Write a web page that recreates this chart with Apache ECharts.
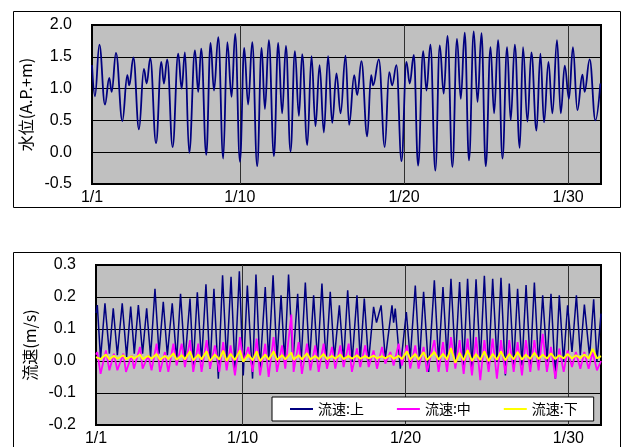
<!DOCTYPE html>
<html><head><meta charset="utf-8">
<script src="https://cdn.jsdelivr.net/npm/echarts@6/dist/echarts.min.js"></script>
<style>html,body{margin:0;padding:0;background:#fff}#c{width:623px;height:447px}</style>
</head><body><div id="c"></div>
<script>
// x: days since 1/1 00:00
const tickDays = [0, 9, 19, 29];
const tickLabels = ['1/1', '1/10', '1/20', '1/30'];
const levelName = '水位(A.P.+m)';
const velName = '流速(m/s)';
const seriesNames = ['流速:上', '流速:中', '流速:下'];

// 水位 (read at highs / lows)
const waterLevel = [
[0.00,1.37],[0.18,0.88],[0.45,1.69],[0.79,0.75],[1.05,1.17],[1.20,0.95],[1.46,1.56],[1.85,0.49],
[2.15,1.21],[2.27,1.05],[2.52,1.49],[2.86,0.36],[3.16,1.31],[3.33,1.08],[3.55,1.48],[3.90,0.14],
[4.22,1.42],[4.38,1.08],[4.58,1.46],[4.91,0.08],[5.25,1.55],[5.46,1.00],[5.66,1.57],[5.92,-0.01],
[6.27,1.60],[6.47,0.95],[6.65,1.63],[6.96,-0.04],[7.22,1.72],[7.43,0.97],[7.69,1.81],[7.99,-0.10],
[8.24,1.73],[8.50,0.87],[8.72,1.86],[9.01,-0.15],[9.27,1.64],[9.51,0.75],[9.76,1.73],[10.06,-0.22],
[10.33,1.64],[10.53,0.68],[10.77,1.76],[11.08,-0.06],[11.34,1.72],[11.58,0.61],[11.81,1.67],[12.09,0.01],
[12.36,1.59],[12.60,0.57],[12.80,1.54],[13.11,0.11],[13.37,1.51],[13.61,0.41],[13.86,1.37],[14.12,0.31],
[14.38,1.51],[14.63,0.46],[14.89,1.24],[15.14,0.61],[15.44,1.52],[15.66,0.43],[15.97,1.21],[16.15,0.90],
[16.41,1.43],[16.76,0.25],[17.00,1.21],[17.12,1.05],[17.47,1.46],[17.83,0.08],[18.10,1.26],[18.28,1.05],
[18.54,1.37],[18.85,-0.14],[19.15,1.42],[19.35,1.08],[19.60,1.53],[19.86,-0.21],[20.17,1.59],[20.37,0.97],
[20.61,1.69],[20.91,-0.29],[21.18,1.68],[21.42,0.92],[21.65,1.83],[21.95,-0.23],[22.23,1.78],[22.46,0.84],
[22.70,1.88],[22.96,-0.13],[23.25,1.90],[23.48,0.79],[23.72,1.87],[23.98,-0.22],[24.27,1.65],[24.49,0.61],
[24.73,1.76],[25.00,-0.10],[25.28,1.65],[25.50,0.50],[25.75,1.69],[26.05,0.07],[26.25,1.65],[26.52,0.48],
[26.76,1.57],[27.07,0.34],[27.31,1.55],[27.53,0.47],[27.80,1.42],[28.04,0.61],[28.32,1.76],[28.55,0.61],
[28.79,1.36],[29.05,0.84],[29.29,1.65],[29.56,0.66],[29.87,1.22],[30.00,0.95],[30.31,1.46],[30.66,0.50],
[30.96,1.08]
];

// 流速:上
const velUpper = [
[0.00,0.150],[0.08,0.175],[0.28,0.007],[0.55,0.180],[0.82,0.023],[1.06,0.165],[1.31,0.018],[1.61,0.180],
[1.88,0.013],[2.13,0.170],[2.35,0.023],[2.60,0.175],[2.86,0.023],[3.11,0.165],[3.35,0.013],[3.62,0.226],
[3.87,0.023],[4.13,0.185],[4.38,0.018],[4.68,0.180],[4.95,0.002],[5.19,0.210],[5.46,-0.003],[5.77,0.195],
[5.97,-0.014],[6.22,0.215],[6.48,-0.003],[6.75,0.240],[7.00,-0.024],[7.24,0.226],[7.51,-0.055],[7.77,0.268],
[8.02,-0.003],[8.29,0.263],[8.53,-0.024],[8.80,0.280],[9.04,-0.045],[9.29,0.236],[9.61,-0.055],[9.82,0.270],
[10.07,-0.024],[10.39,0.231],[10.60,-0.003],[10.87,0.268],[11.11,0.002],[11.36,0.205],[11.58,-0.003],[11.82,0.270],
[12.09,-0.003],[12.38,0.210],[12.58,-0.014],[12.85,0.245],[13.11,-0.003],[13.36,0.205],[13.60,-0.003],[13.87,0.242],
[14.12,-0.008],[14.38,0.216],[14.63,0.007],[14.94,0.174],[15.20,-0.003],[15.45,0.221],[15.72,-0.003],[16.02,0.205],
[16.22,0.002],[16.47,0.195],[16.73,-0.003],[17.04,0.169],[17.22,0.120],[17.50,0.174],[17.76,0.007],[18.17,0.174],
[18.27,0.120],[18.37,0.164],[18.68,-0.024],[19.05,0.153],[19.29,0.007],[19.60,0.236],[19.86,-0.003],[20.11,0.216],
[20.42,-0.034],[20.77,0.252],[21.03,-0.003],[21.30,0.231],[21.55,0.007],[21.79,0.257],[22.06,-0.003],[22.32,0.247],
[22.57,-0.014],[22.81,0.257],[23.08,-0.024],[23.33,0.255],[23.59,-0.003],[23.84,0.266],[24.10,-0.024],[24.35,0.257],
[24.62,-0.003],[24.86,0.260],[25.13,-0.045],[25.37,0.242],[25.64,-0.014],[25.88,0.226],[26.15,-0.014],[26.40,0.237],
[26.66,-0.014],[26.91,0.245],[27.17,-0.014],[27.42,0.205],[27.69,-0.003],[27.93,0.210],[28.20,-0.055],[28.44,0.205],
[28.70,-0.003],[28.95,0.174],[29.22,0.028],[29.49,0.205],[29.73,0.018],[29.98,0.176],[30.30,0.013],[30.55,0.193],
[30.75,-0.003],[31.00,0.148]
];

// 流速:中
const velMiddle = [
[0.00,0.020],[0.08,0.028],[0.28,-0.040],[0.61,0.033],[0.82,-0.029],[1.10,0.023],[1.31,-0.029],[1.68,0.023],
[1.84,-0.034],[2.19,0.018],[2.33,-0.024],[2.70,0.044],[2.86,-0.024],[3.21,0.018],[3.41,-0.029],[3.72,0.054],
[3.93,-0.034],[4.23,0.028],[4.44,-0.034],[4.75,0.054],[4.95,-0.014],[5.26,0.054],[5.46,-0.019],[5.77,0.065],
[5.97,-0.034],[6.28,0.054],[6.48,-0.034],[6.79,0.065],[7.00,-0.024],[7.30,0.049],[7.57,-0.034],[7.81,0.059],
[8.02,-0.029],[8.26,0.049],[8.53,-0.045],[8.84,0.075],[9.04,-0.003],[9.35,0.044],[9.62,-0.034],[9.86,0.070],
[10.07,-0.045],[10.39,0.054],[10.60,-0.050],[10.90,0.075],[11.11,-0.034],[11.42,0.049],[11.62,-0.024],[11.99,0.145],
[12.13,-0.034],[12.44,0.059],[12.64,-0.040],[12.95,0.054],[13.16,-0.029],[13.46,0.049],[13.67,-0.034],[13.97,0.054],
[14.18,-0.024],[14.49,0.044],[14.69,-0.024],[15.00,0.049],[15.20,-0.019],[15.51,0.054],[15.71,-0.034],[16.02,0.039],
[16.22,-0.019],[16.53,0.049],[16.74,-0.019],[17.04,0.033],[17.25,-0.024],[17.56,0.044],[17.76,-0.008],[18.07,0.028],
[18.27,-0.014],[18.58,0.054],[18.78,-0.014],[19.09,0.049],[19.29,-0.024],[19.60,0.049],[19.80,-0.024],[20.11,0.044],
[20.32,-0.034],[20.77,0.065],[21.03,-0.034],[21.30,0.059],[21.55,-0.034],[21.79,0.075],[22.06,-0.024],[22.32,0.065],
[22.57,-0.040],[22.81,0.070],[23.08,-0.045],[23.33,0.075],[23.59,-0.060],[23.84,0.065],[24.10,-0.034],[24.35,0.070],
[24.61,-0.055],[24.86,0.065],[25.13,-0.040],[25.37,0.065],[25.64,-0.034],[25.88,0.059],[26.15,-0.045],[26.39,0.065],
[26.66,-0.034],[26.91,0.065],[27.17,-0.029],[27.42,0.085],[27.68,-0.034],[27.93,0.044],[28.20,-0.055],[28.44,0.039],
[28.71,-0.034],[28.95,0.033],[29.22,-0.019],[29.46,0.028],[29.73,-0.024],[29.98,0.028],[30.24,-0.024],[30.49,0.028],
[30.75,-0.029],[31.00,0.000]
];

// 流速:下
const velLower = [
[0.00,0.012],[0.08,0.018],[0.28,0.006],[0.61,0.020],[0.82,0.006],[1.10,0.016],[1.31,0.007],[1.68,0.018],
[1.84,0.006],[2.19,0.015],[2.33,0.007],[2.70,0.020],[2.86,0.006],[3.21,0.016],[3.41,0.007],[3.72,0.022],
[3.93,0.004],[4.23,0.016],[4.44,0.006],[4.75,0.024],[4.95,0.004],[5.26,0.018],[5.46,0.005],[5.77,0.030],
[5.97,0.002],[6.28,0.020],[6.48,0.005],[6.79,0.030],[7.00,0.000],[7.30,0.020],[7.57,0.004],[7.81,0.032],
[8.02,0.000],[8.26,0.022],[8.53,0.003],[8.84,0.033],[9.04,-0.002],[9.35,0.020],[9.62,0.002],[9.86,0.030],
[10.07,0.000],[10.39,0.020],[10.60,0.004],[10.90,0.030],[11.11,0.003],[11.42,0.018],[11.62,0.005],[11.99,0.026],
[12.13,0.004],[12.44,0.018],[12.64,0.005],[12.95,0.024],[13.16,0.005],[13.46,0.016],[13.67,0.006],[13.97,0.022],
[14.18,0.006],[14.49,0.016],[14.69,0.007],[15.00,0.020],[15.20,0.006],[15.51,0.016],[15.71,0.007],[16.02,0.018],
[16.22,0.007],[16.53,0.016],[16.74,0.008],[17.04,0.017],[17.25,0.008],[17.56,0.015],[17.76,0.008],[18.07,0.018],
[18.27,0.007],[18.58,0.016],[18.78,0.006],[19.09,0.030],[19.29,0.005],[19.60,0.022],[19.80,0.004],[20.11,0.028],
[20.32,0.003],[20.77,0.028],[21.03,0.004],[21.30,0.022],[21.55,0.005],[21.79,0.040],[22.06,-0.006],[22.32,0.025],
[22.57,0.002],[22.81,0.034],[23.08,0.000],[23.33,0.022],[23.59,0.003],[23.84,0.030],[24.10,0.000],[24.35,0.022],
[24.61,0.004],[24.86,0.030],[25.13,0.002],[25.37,0.022],[25.64,0.005],[25.88,0.028],[26.15,0.004],[26.39,0.020],
[26.66,0.006],[26.91,0.026],[27.17,0.006],[27.42,0.020],[27.68,0.007],[27.93,0.024],[28.20,0.006],[28.44,0.018],
[28.71,0.008],[28.95,0.022],[29.22,0.008],[29.46,0.018],[29.73,0.009],[29.98,0.020],[30.24,0.008],[30.49,0.038],
[30.75,0.008],[31.00,0.015]
];

const chart = echarts.init(document.getElementById('c'), null, {renderer: 'canvas'});

function dayLabel(v) {
  for (let i = 0; i < tickDays.length; i++) if (Math.abs(v - tickDays[i]) < 1e-6) return tickLabels[i];
  return '';
}
function xAxisFor(g) {
  return {gridIndex: g, type: 'value', min: 0, max: 31, interval: 1,
    axisLine: {show: false}, axisTick: {show: false}, splitLine: {show: false},
    axisLabel: {formatter: dayLabel, color: '#000', fontFamily: 'Liberation Sans', fontSize: 16,
      margin: 6, showMaxLabel: false, showMinLabel: true}};
}
function yAxisFor(g, mn, mx, iv, name, gap) {
  return {gridIndex: g, type: 'value', min: mn, max: mx, interval: iv,
    axisLine: {show: false}, axisTick: {show: false},
    splitLine: {show: true, lineStyle: {color: '#000', width: 1}},
    axisLabel: {formatter: v => v.toFixed(1), color: '#000', fontFamily: 'Liberation Sans', fontSize: 16, margin: 20},
    name: name, nameLocation: 'middle', nameRotate: 90, nameGap: gap,
    nameTextStyle: {fontFamily: 'Noto Sans CJK JP', fontSize: 16, color: '#000'}};
}
function vLines() {
  return {symbol: 'none', silent: true, animation: false, z: 1,
    label: {show: false}, lineStyle: {color: '#303030', width: 1, type: 'solid'},
    data: tickDays.slice(1).map(d => ({xAxis: d}))};
}

chart.setOption({
  animation: false,
  backgroundColor: '#fff',
  grid: [
    {left: 92, top: 25, width: 509, height: 159, show: true, backgroundColor: '#c0c0c0', borderColor: '#000', borderWidth: 2},
    {left: 96, top: 265, width: 505, height: 160, show: true, backgroundColor: '#c0c0c0', borderColor: '#000', borderWidth: 2}
  ],
  xAxis: [xAxisFor(0), xAxisFor(1)],
  yAxis: [yAxisFor(0, -0.5, 2.0, 0.5, levelName, 50), yAxisFor(1, -0.2, 0.3, 0.1, velName, 54)],
  legend: {data: seriesNames, left: 272, top: 397, orient: 'horizontal', icon: 'rect',
    itemWidth: 23, itemHeight: 2, itemGap: 33, padding: [5, 16, 5, 18],
    backgroundColor: '#fff', borderColor: '#000', borderWidth: 1,
    textStyle: {fontFamily: 'Noto Sans CJK JP', fontSize: 14, color: '#000'}},
  graphic: [
    {type: 'rect', shape: {x: 13.5, y: 11.5, width: 607, height: 196}, style: {fill: 'transparent', stroke: '#000', lineWidth: 1}, silent: true},
    {type: 'rect', shape: {x: 13.5, y: 252.5, width: 607, height: 210}, style: {fill: 'transparent', stroke: '#000', lineWidth: 1}, silent: true}
  ],
  series: [
    {type: 'line', xAxisIndex: 0, yAxisIndex: 0, data: waterLevel, symbol: 'none', showSymbol: false,
      smooth: 0.4, smoothMonotone: 'x', color: '#000080', lineStyle: {color: '#000080', width: 1.8},
      markLine: vLines()},
    {type: 'line', name: seriesNames[0], xAxisIndex: 1, yAxisIndex: 1, data: velUpper, symbol: 'none', showSymbol: false,
      color: '#000080', lineStyle: {color: '#000080', width: 1.5}, markLine: vLines()},
    {type: 'line', name: seriesNames[1], xAxisIndex: 1, yAxisIndex: 1, data: velMiddle, symbol: 'none', showSymbol: false,
      color: '#ff00ff', lineStyle: {color: '#ff00ff', width: 1.8}},
    {type: 'line', name: seriesNames[2], xAxisIndex: 1, yAxisIndex: 1, data: velLower, symbol: 'none', showSymbol: false,
      color: '#ffff00', lineStyle: {color: '#ffff00', width: 2}}
  ]
});
</script></body></html>
